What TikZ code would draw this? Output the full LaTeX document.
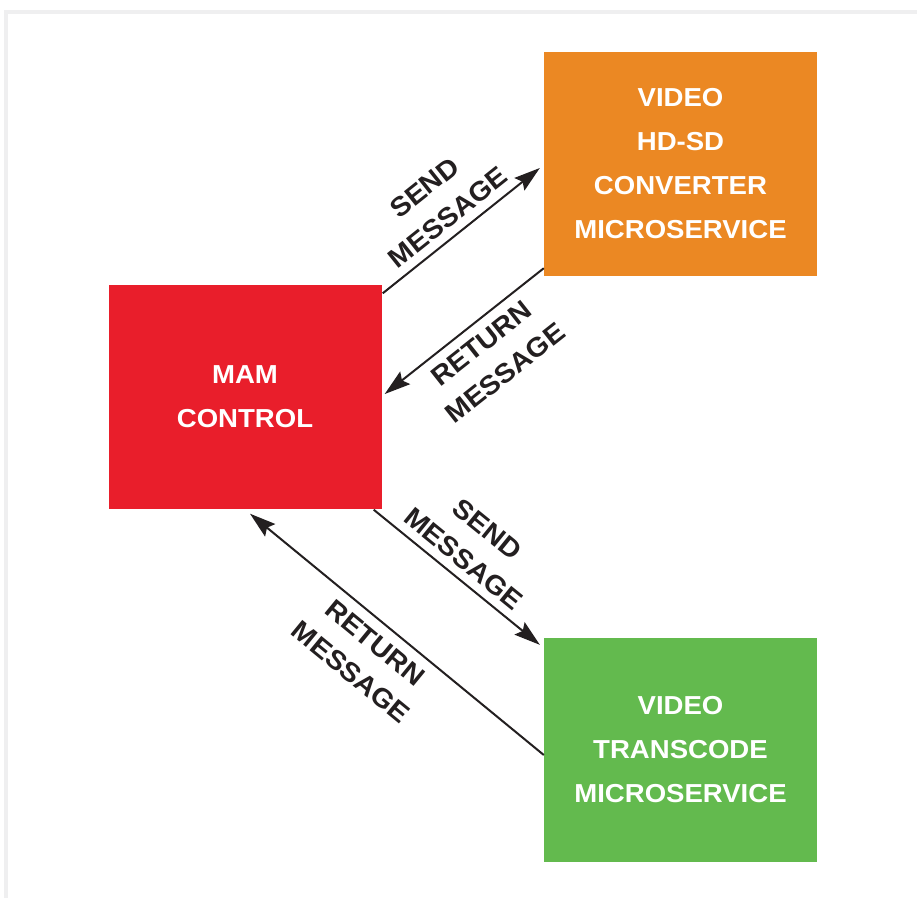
\documentclass[tikz,border=0pt]{standalone}
\usepackage{fontspec}
\setmainfont{Liberation Sans}[FakeStretch=1.06]
\usetikzlibrary{arrows.meta,calc}
\definecolor{mamred}{RGB}{233,30,43}
\definecolor{convorange}{RGB}{235,136,35}
\definecolor{transgreen}{RGB}{99,186,78}
\definecolor{ink}{RGB}{35,31,32}
\definecolor{framegray}{RGB}{239,239,240}
\begin{document}
\begin{tikzpicture}[x=1pt,y=1pt,
  box/.style={minimum width=273pt, minimum height=224pt, inner sep=0pt, text=white,
    font=\fontsize{26}{44}\selectfont\bfseries, align=center},
  conn/.style={draw=ink, line width=2pt, -{Stealth[length=26pt,width=16pt,inset=4pt]}},
  lab/.style={font=\fontsize{27}{38}\selectfont\bfseries, text=ink, align=center,
    inner sep=0pt, sloped}]
\useasboundingbox (0,0) rectangle (917,-898);
\fill[framegray] (4,-10) rectangle (917,-898);
\fill[white] (8,-14) rectangle (917,-898);

\node[box, fill=mamred] (red) at (245,-396.5) {MAM\\CONTROL};
\node[box, fill=convorange] (orange) at (680.5,-164) {VIDEO\\HD-SD\\CONVERTER\\MICROSERVICE};
\node[box, fill=transgreen] (green) at (680.5,-750) {VIDEO\\TRANSCODE\\MICROSERVICE};

\draw[conn] ($(red.north east)+(1,-9)$) -- node[lab, above=8pt, pos=0.49]{SEND\\MESSAGE} ($(orange.west)+(-4,-4)$);
\draw[conn] ($(orange.south west)+(0,8)$) -- node[lab, below=10pt, pos=0.47]{RETURN\\MESSAGE} ($(red.east)+(3,2.5)$);
\draw[conn] ($(red.south east)+(-8,-1)$) -- node[lab, above=8pt, pos=0.47]{SEND\\MESSAGE} ($(green.north west)+(-4,-7)$);
\draw[conn] ($(green.west)+(0,-5)$) -- node[lab, below=10pt, pos=0.53]{RETURN\\MESSAGE} ($(red.south)+(5,-5)$);
\end{tikzpicture}
\end{document}
